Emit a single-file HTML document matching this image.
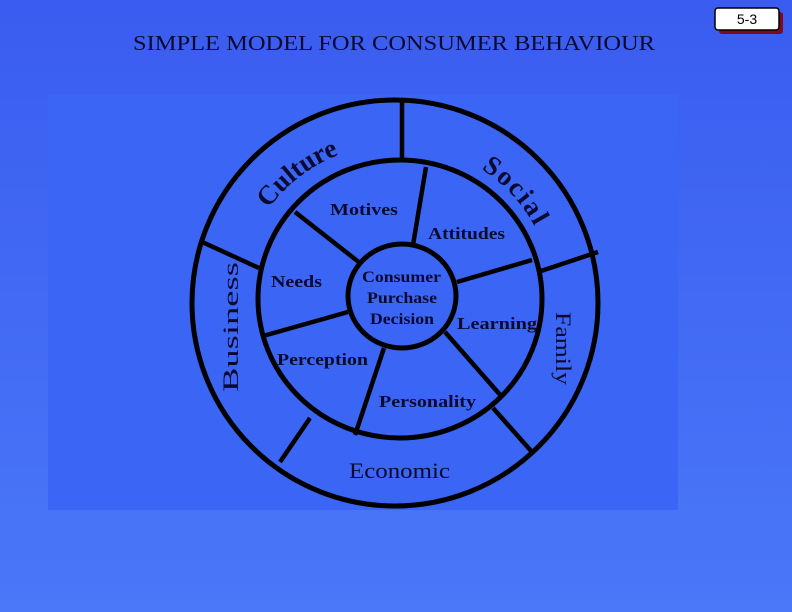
<!DOCTYPE html>
<html><head><meta charset="utf-8"><style>
body{margin:0;width:792px;height:612px;overflow:hidden;background:linear-gradient(#3a5cf0,#4a78f8);font-family:"Liberation Serif",serif;}
</style></head><body>
<svg width="792" height="612" xmlns="http://www.w3.org/2000/svg" style="position:absolute;left:0;top:0">
<rect x="48" y="95" width="630" height="415" fill="#3b66f5"/>
<text x="133" y="50" font-size="21" fill="#0a0a30" font-family="Liberation Serif" textLength="522" lengthAdjust="spacingAndGlyphs">SIMPLE  MODEL FOR CONSUMER BEHAVIOUR</text>
<rect x="719" y="12" width="64" height="22" rx="3" fill="#7a0a1e"/>
<rect x="715" y="8" width="64" height="22" rx="3" fill="#fff" stroke="#000" stroke-width="1.5"/>
<text x="747" y="24" font-size="14" text-anchor="middle" font-family="Liberation Sans">5-3</text>
<g fill="none" stroke="#000" stroke-width="5">
<ellipse cx="395" cy="303" rx="203" ry="203"/>
<ellipse cx="400" cy="299" rx="142" ry="139"/>
<ellipse cx="402" cy="296" rx="54" ry="52"/>
</g>
<g stroke="#000" stroke-width="4.5">
<line x1="402" y1="101" x2="402" y2="160"/>
<line x1="200" y1="241" x2="259" y2="268"/>
<line x1="538" y1="272" x2="598" y2="252"/>
<line x1="310" y1="418" x2="280" y2="462"/>
<line x1="493" y1="408" x2="532" y2="452"/>
<line x1="426" y1="167" x2="413" y2="245"/>
<line x1="295" y1="212" x2="360" y2="263"/>
<line x1="263" y1="336" x2="348" y2="312"/>
<line x1="384" y1="348" x2="355" y2="435"/>
<line x1="445" y1="332" x2="502" y2="397"/>
<line x1="457" y1="282" x2="532" y2="260"/>
</g>
<defs><path id="arc" d="M238,302 A158,158 0 0 1 554,302" fill="none"/></defs>
<g font-family="Liberation Serif" font-weight="bold" fill="#0a0a30">
<text font-size="27"><textPath href="#arc" startOffset="100">Culture</textPath></text>
<text font-size="27" letter-spacing="2"><textPath href="#arc" startOffset="338">Social</textPath></text>
<text x="330" y="215" font-size="17" textLength="68" lengthAdjust="spacingAndGlyphs">Motives</text>
<text x="428" y="239" font-size="17" textLength="77" lengthAdjust="spacingAndGlyphs">Attitudes</text>
<text x="271" y="287" font-size="17" textLength="51" lengthAdjust="spacingAndGlyphs">Needs</text>
<text x="362" y="282" font-size="16" textLength="79" lengthAdjust="spacingAndGlyphs">Consumer</text>
<text x="367" y="303" font-size="16" textLength="70" lengthAdjust="spacingAndGlyphs">Purchase</text>
<text x="370" y="324" font-size="16" textLength="64" lengthAdjust="spacingAndGlyphs">Decision</text>
<text x="457" y="329" font-size="17" textLength="80" lengthAdjust="spacingAndGlyphs">Learning</text>
<text x="277" y="365" font-size="17" textLength="91" lengthAdjust="spacingAndGlyphs">Perception</text>
<text x="379" y="407" font-size="17" textLength="97" lengthAdjust="spacingAndGlyphs">Personality</text>
<text x="349" y="478" font-size="22" font-weight="normal" textLength="101" lengthAdjust="spacingAndGlyphs">Economic</text>
<text transform="translate(238,392) rotate(-90)" font-size="22" font-weight="normal" textLength="130" lengthAdjust="spacingAndGlyphs">Business</text>
<text transform="translate(556,312) rotate(90)" font-size="22" font-weight="normal" textLength="73" lengthAdjust="spacingAndGlyphs">Family</text>
</g>
</svg>
</body></html>
